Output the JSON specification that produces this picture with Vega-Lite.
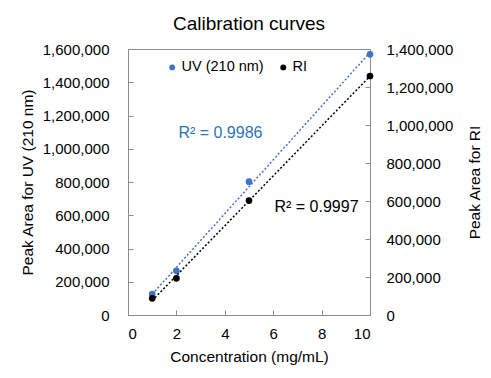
{
  "$schema": "https://vega.github.io/schema/vega-lite/v6.json",
  "autosize": "none",
  "width": 242,
  "height": 266,
  "padding": {"left": 128, "top": 49, "right": 121, "bottom": 63},
  "background": "white",
  "title": {"text": "Calibration curves", "font": "Liberation Sans", "fontSize": 19, "fontWeight": "normal", "color": "#000000", "offset": 8, "anchor": "middle"},
  "config": {
    "view": {"stroke": "#8c8c8c", "strokeWidth": 1},
    "font": "Liberation Sans",
    "axis": {"grid": false, "labelFont": "Liberation Sans", "titleFont": "Liberation Sans", "labelFontSize": 15, "titleFontSize": 15.5, "titleFontWeight": "normal", "labelColor": "#000000", "titleColor": "#000000", "domainColor": "#8c8c8c", "tickColor": "#8c8c8c", "labelOverlap": false}
  },
  "datasets": {
    "pts": [
      {"conc": 1, "area": 126000, "series": "UV (210 nm)"},
      {"conc": 2, "area": 266000, "series": "UV (210 nm)"},
      {"conc": 5, "area": 802000, "series": "UV (210 nm)"},
      {"conc": 10, "area": 1568000, "series": "UV (210 nm)"},
      {"conc": 1, "area": 88000, "series": "RI"},
      {"conc": 2, "area": 193000, "series": "RI"},
      {"conc": 5, "area": 602000, "series": "RI"},
      {"conc": 10, "area": 1258000, "series": "RI"}
    ],
    "notes": [
      {"x": 3.82, "y": 1093000, "label": "R² = 0.9986", "series": "UV (210 nm)"},
      {"x": 7.79, "y": 651000, "label": "R² = 0.9997", "series": "RI"}
    ]
  },
  "encoding": {
    "x": {"field": "conc", "type": "quantitative", "scale": {"domain": [0, 10], "nice": false}, "axis": {"title": "Concentration (mg/mL)", "values": [0, 2, 4, 6, 8, 10], "tickCount": 20, "format": "d", "tickSize": -5, "labelPadding": 16, "titlePadding": 8, "labelOverlap": false}}
  },
  "layer": [
    {
      "layer": [
        {
          "data": {"name": "pts"},
          "transform": [{"filter": "datum.series === 'UV (210 nm)'"}, {"regression": "area", "on": "conc"}],
          "mark": {"type": "line", "strokeDash": [2, 2], "strokeWidth": 1.5, "color": "#4472C4"},
          "encoding": {"y": {"field": "area", "type": "quantitative", "scale": {"domain": [0, 1600000], "nice": false}, "axis": {"title": "Peak Area for UV (210 nm)", "orient": "left", "values": [0, 200000, 400000, 600000, 800000, 1000000, 1200000, 1400000, 1600000], "tickCount": 20, "format": ",.0f", "tickSize": -5, "labelPadding": 24, "titlePadding": 7, "labelOverlap": false}}}
        },
        {
          "data": {"name": "pts"},
          "transform": [{"filter": "datum.series === 'UV (210 nm)'"}],
          "mark": {"type": "point", "filled": true, "opacity": 1, "size": 45},
          "encoding": {
            "y": {"field": "area", "type": "quantitative"},
            "color": {"field": "series", "type": "nominal", "scale": {"domain": ["UV (210 nm)", "RI"], "range": ["#4472C4", "#000000"]},
              "legend": {"title": null, "orient": "none", "legendX": 37, "legendY": 11, "direction": "horizontal", "labelFontSize": 14.5, "labelFont": "Liberation Sans", "labelColor": "#000000", "symbolType": "circle", "symbolSize": 35, "columnPadding": 12, "labelOffset": 2}}
          }
        },
        {
          "data": {"name": "notes"},
          "transform": [{"filter": "datum.series === 'UV (210 nm)'"}],
          "mark": {"type": "text", "fontSize": 16, "font": "Liberation Sans", "color": "#2E75B6"},
          "encoding": {"x": {"field": "x", "type": "quantitative"}, "y": {"field": "y", "type": "quantitative"}, "text": {"field": "label"}}
        }
      ]
    },
    {
      "layer": [
        {
          "data": {"name": "pts"},
          "transform": [{"filter": "datum.series === 'RI'"}, {"regression": "area", "on": "conc"}],
          "mark": {"type": "line", "strokeDash": [2, 2], "strokeWidth": 1.5, "color": "#000000"},
          "encoding": {"y": {"field": "area", "type": "quantitative", "scale": {"domain": [0, 1400000], "nice": false}, "axis": {"title": "Peak Area for RI", "orient": "right", "values": [0, 200000, 400000, 600000, 800000, 1000000, 1200000, 1400000], "tickCount": 20, "format": ",.0f", "tickSize": -5, "labelPadding": 21, "titlePadding": 30, "titleAngle": 270, "labelOverlap": false}}}
        },
        {
          "data": {"name": "pts"},
          "transform": [{"filter": "datum.series === 'RI'"}],
          "mark": {"type": "point", "filled": true, "opacity": 1, "size": 45},
          "encoding": {
            "y": {"field": "area", "type": "quantitative"},
            "color": {"field": "series", "type": "nominal"}
          }
        }
      ]
    },
    {
      "data": {"name": "notes"},
      "transform": [{"filter": "datum.series === 'RI'"}],
      "mark": {"type": "text", "fontSize": 16, "font": "Liberation Sans", "color": "#000000"},
      "encoding": {"x": {"field": "x", "type": "quantitative"}, "y": {"field": "y", "type": "quantitative", "scale": {"domain": [0, 1600000], "nice": false}, "axis": null}, "text": {"field": "label"}}
    }
  ],
  "resolve": {"scale": {"y": "independent"}}
}
